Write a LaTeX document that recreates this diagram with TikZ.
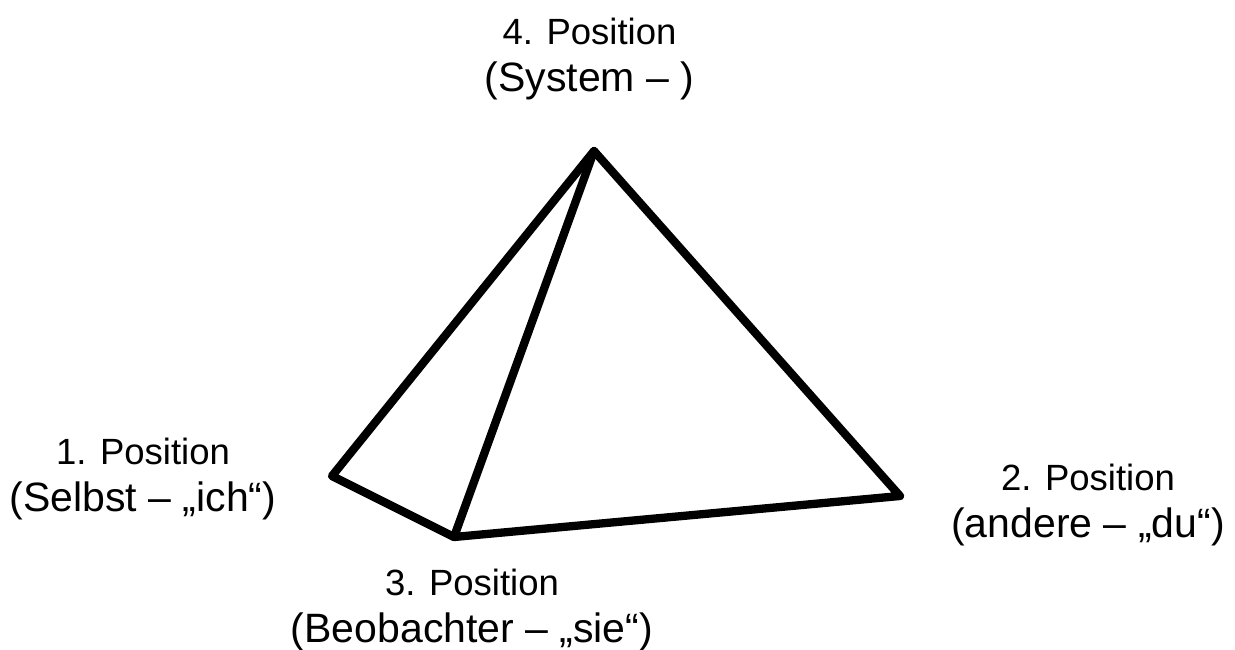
\documentclass[tikz,border=0pt]{standalone}
\usepackage{fontspec}
\setmainfont{Liberation Sans}
\newcommand{\lineA}{\fontsize{36.5}{44}\selectfont}
\newcommand{\lineB}{\fontsize{41}{44}\selectfont}
\begin{document}
\begin{tikzpicture}[x=1pt,y=-1pt,
  lbl/.style={align=center,inner sep=0pt,text=black},
  edge/.style={draw=black,line width=8.3pt,line join=round,line cap=round}]
\useasboundingbox (0,0) rectangle (1235,650);
\fill[white] (0,0) rectangle (1235,650);
\coordinate (top) at (594,151);
\coordinate (p1) at (332,476);
\coordinate (p3) at (454,537);
\coordinate (p2) at (900,496);
\draw[edge] (top) -- (p1) -- (p3) -- (p2) -- cycle;
\draw[edge] (top) -- (p3);
\node[lbl] (l4) at (589.5,59) {\lineA 4. Position\\[15pt]\lineB (System – )};
\node[lbl] (l1) at (143,479) {\lineA 1. Position\\[15pt]\lineB (Selbst – „ich“)};
\node[lbl] (l2) at (1088,505) {\lineA 2. Position\\[15pt]\lineB (andere – „du“)};
\node[lbl] (l3) at (472,610) {\lineA 3. Position\\[15pt]\lineB (Beobachter – „sie“)};
\end{tikzpicture}
\end{document}
